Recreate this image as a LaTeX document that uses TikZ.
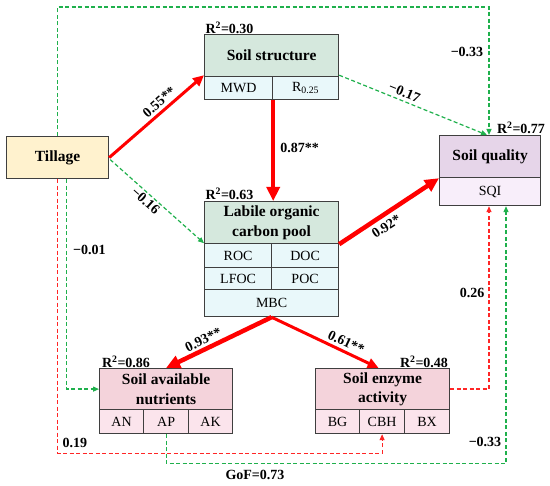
\documentclass[tikz,border=0pt]{standalone}
\usepackage{fontspec}
\setmainfont{Liberation Serif}
\usetikzlibrary{arrows.meta,calc}
\definecolor{boxline}{HTML}{3F3F3F}
\definecolor{tillfill}{HTML}{FFF2CE}
\definecolor{ssfill}{HTML}{D5E8DD}
\definecolor{sscell}{HTML}{E9F8FA}
\definecolor{sqfill}{HTML}{E6D5E9}
\definecolor{sqcell}{HTML}{F8EEFA}
\definecolor{pkfill}{HTML}{F4D3DB}
\definecolor{pkcell}{HTML}{FBE4EC}
\definecolor{gline}{HTML}{1FB04C}
\definecolor{rline}{HTML}{FF0000}
\begin{document}
\begin{tikzpicture}[x=1pt,y=-1pt,
  box/.style={draw=boxline, line width=1.2pt, inner sep=0pt, anchor=north west, align=center},
  title/.style={box, font=\fontsize{15.5}{19.5}\selectfont\bfseries},
  cell/.style={box, font=\fontsize{14}{16}\selectfont},
  lab/.style={font=\fontsize{14}{16}\selectfont\bfseries, inner sep=1pt},
  redthick/.style={draw=rline, line width=4.5pt, -{Triangle[length=14pt,width=13pt]}},
  redthin/.style={draw=rline, line width=3pt, -{Triangle[length=11pt,width=10pt]}},
  gdash/.style={draw=gline, line width=1.2pt, dash pattern=on 4pt off 2.5pt, -{Triangle[length=6pt,width=5pt]}},
  rdash/.style={draw=rline!85, line width=1.2pt, dash pattern=on 4pt off 2.5pt, -{Triangle[length=6pt,width=5pt]}}]
\path[use as bounding box] (0,0) rectangle (550,486);

% Tillage
\node[title, fill=tillfill, minimum width=102pt, minimum height=42pt] (till) at (6,136) {Tillage};

% Soil structure
\node[title, fill=ssfill, minimum width=134pt, minimum height=42pt] (ss) at (204,34) {Soil structure};
\node[cell, fill=sscell, minimum width=68pt, minimum height=23pt] (mwd) at (204,76) {MWD};
\node[cell, fill=sscell, minimum width=66pt, minimum height=23pt] (r025) at (272,76) {R\textsubscript{0.25}};

% Labile organic carbon pool
\node[title, fill=ssfill, minimum width=134pt, minimum height=42pt] (loc) at (204,201) {Labile organic\\carbon pool};
\node[cell, fill=sscell, minimum width=67pt, minimum height=24pt] (roc) at (204,243) {ROC};
\node[cell, fill=sscell, minimum width=67pt, minimum height=24pt] (doc) at (271,243) {DOC};
\node[cell, fill=sscell, minimum width=67pt, minimum height=22pt] (lfoc) at (204,267) {LFOC};
\node[cell, fill=sscell, minimum width=67pt, minimum height=22pt] (poc) at (271,267) {POC};
\node[cell, fill=sscell, minimum width=134pt, minimum height=27pt] (mbc) at (204,289) {MBC};

% Soil quality
\node[title, fill=sqfill, minimum width=101pt, minimum height=42pt] (sq) at (439,135) {Soil quality};
\node[cell, fill=sqcell, minimum width=101pt, minimum height=28pt] (sqi) at (439,177) {SQI};

% Soil available nutrients
\node[title, fill=pkfill, minimum width=133pt, minimum height=41pt] (san) at (99,368) {Soil available\\nutrients};
\node[cell, fill=pkcell, minimum width=44pt, minimum height=24pt] (an) at (99,409) {AN};
\node[cell, fill=pkcell, minimum width=45pt, minimum height=24pt] (ap) at (143,409) {AP};
\node[cell, fill=pkcell, minimum width=44pt, minimum height=24pt] (ak) at (188,409) {AK};

% Soil enzyme activity
\node[title, fill=pkfill, minimum width=134pt, minimum height=41pt] (sea) at (315,368) {Soil enzyme\\activity};
\node[cell, fill=pkcell, minimum width=44pt, minimum height=24pt] (bg) at (315,409) {BG};
\node[cell, fill=pkcell, minimum width=45pt, minimum height=24pt] (cbh) at (359,409) {CBH};
\node[cell, fill=pkcell, minimum width=45pt, minimum height=24pt] (bx) at (404,409) {BX};

% R^2 labels
\node[lab] (r1) at (229.5,28) {R\textsuperscript{2}=0.30};
\node[lab] (r2) at (229.5,194) {R\textsuperscript{2}=0.63};
\node[lab] (r3) at (521,128) {R\textsuperscript{2}=0.77};
\node[lab] (r4) at (126,362) {R\textsuperscript{2}=0.86};
\node[lab] (r5) at (424,362) {R\textsuperscript{2}=0.48};

% Dashed connectors
\draw[gdash] (till.north) -- ++(0,-129) -| ($(sq.north west)+(50,0)$);
\node[lab] (l033a) at (467,52) {−0.33};
\draw[gdash] ($(ss.south east)+(0,-2)$) -- ($(sq.north west)+(48,0)$) node[lab, pos=0.42, sloped, above=2pt] (l017) {−0.17};
\draw[gdash] ($(till.east)+(1,2)$) -- ($(loc.south west)+(0,-1)$) node[lab, pos=0.43, sloped, below=1pt] (l016) {−0.16};
\draw[gdash] ($(till.south)+(9,0)$) |- (san.west);
\node[lab, anchor=west] (l001) at (72,250) {−0.01};
\draw[rdash] (till.south) -- ++(0,274) -| (cbh.south);
\node[lab] (l019) at (75,443) {0.19};
\draw[gdash] (ap.south) -- ++(0,29) -| ($(sqi.south west)+(67,0)$);
\node[lab] (l033b) at (485,442) {−0.33};
\draw[rdash] (sea.east) -| ($(sqi.south west)+(50,0)$);
\node[lab] (l026) at (472,293) {0.26};

% Solid connectors
\draw[redthin] (till.east) -- ($(ss.south west)+(0,-2)$) node[lab, pos=0.59, sloped, above=2pt] (l055) {0.55**};
\draw[redthick] (mwd.south east) -- (mwd.south east |- loc.north) node[lab, pos=0.5, anchor=west, xshift=4pt, yshift=3pt] (l087) {0.87**};
\draw[redthick] (loc.south east) -- (sq.south west) node[lab, pos=0.41, sloped, below=3pt] (l092) {0.92*};
\draw[redthick] (mbc.south) -- (san.north) node[lab, pos=0.61, sloped, above=1pt] (l093) {0.93**};
\draw[redthin] (mbc.south) -- ($(sea.north)+(-4,0)$) node[lab, pos=0.66, sloped, above=2pt] (l061) {0.61**};

\node[lab] (gof) at (255,475) {GoF=0.73};
\end{tikzpicture}
\end{document}
